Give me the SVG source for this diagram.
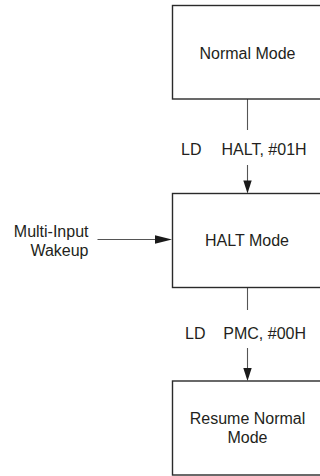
<svg xmlns="http://www.w3.org/2000/svg" width="320" height="476" viewBox="0 0 320 476">
<defs>
<style>
.box{fill:#fff;stroke:#2a2a2a;stroke-width:1.4}
.ln{stroke:#555;stroke-width:1.1;fill:none}
.ah{fill:#1a1a1a;stroke:none}
text{font-family:"Liberation Sans",Arial,sans-serif;font-size:16px;fill:#231f20}
.c{text-anchor:middle}
.r{text-anchor:end}
</style>
</defs>
<rect width="320" height="476" fill="#fff"/>
<g id="connectors">
<line class="ln" x1="247.5" y1="99" x2="247.5" y2="130"/>
<line class="ln" x1="247.5" y1="165" x2="247.5" y2="182"/>
<polygon class="ah" points="243.3,180.5 251.7,180.5 247.5,193.5"/>
<line class="ln" x1="247.5" y1="288" x2="247.5" y2="310"/>
<line class="ln" x1="247.5" y1="348" x2="247.5" y2="369"/>
<polygon class="ah" points="243.3,368 251.7,368 247.5,381"/>
<line class="ln" x1="97.5" y1="239.5" x2="157" y2="239.5"/>
<polygon class="ah" points="155,235.3 155,243.7 172,239.5"/>
<text x="181" y="154.5">LD</text>
<text x="221.5" y="154.5">HALT, #01H</text>
<text x="185" y="338.5">LD</text>
<text x="223.3" y="338.5">PMC, #00H</text>
</g>
<g id="normal-mode">
<rect class="box" x="172.5" y="5.5" width="150" height="93.5"/>
<text class="c" x="247.5" y="58.5">Normal Mode</text>
</g>
<g id="halt-mode">
<rect class="box" x="172.5" y="193.5" width="150" height="94"/>
<text class="c" x="247" y="246">HALT Mode</text>
</g>
<g id="resume-normal-mode">
<rect class="box" x="172.5" y="381" width="150" height="94"/>
<text class="c" x="247.5" y="424">Resume Normal</text>
<text class="c" x="247.5" y="442.5">Mode</text>
</g>
<g id="multi-input-wakeup">
<text class="r" x="88.5" y="236.5">Multi-Input</text>
<text class="r" x="88.5" y="256">Wakeup</text>
</g>
</svg>
